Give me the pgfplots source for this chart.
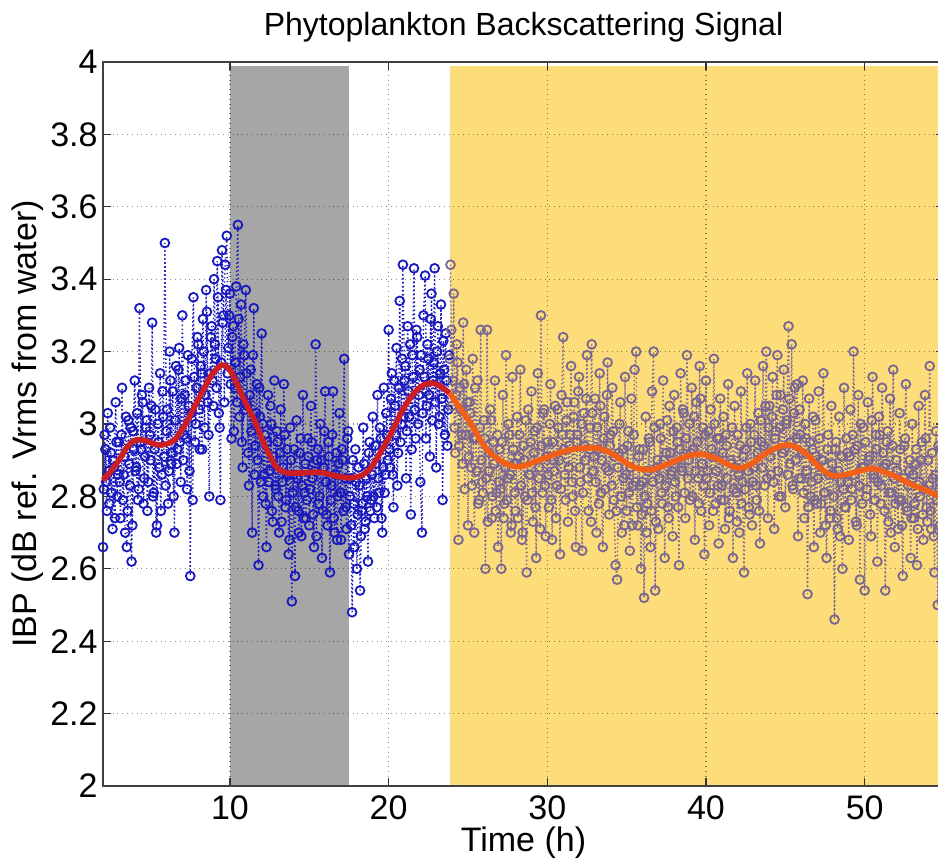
\documentclass[border=0pt]{standalone}
\usepackage{pgfplots}
\pgfplotsset{compat=1.18}
\usepackage{fontspec}
\setmainfont{Liberation Sans}
\definecolor{bluept}{RGB}{25,25,190}
\definecolor{purpt}{RGB}{122,102,146}
\definecolor{yel}{RGB}{253,221,122}
\definecolor{gry}{RGB}{166,166,166}
\definecolor{redl}{RGB}{205,30,35}
\definecolor{orgl}{RGB}{242,95,25}
\pgfplotsset{
  bluestyle/.style={bluept, line width=0.7pt, dash pattern=on 0.7pt off 1.3pt, mark=o, mark size=2.2pt, mark options={solid, line width=0.9pt}},
  purstyle/.style={purpt, line width=0.7pt, dash pattern=on 0.7pt off 1.3pt, mark=o, mark size=2.2pt, mark options={solid, line width=0.9pt}},
}
\begin{document}
\begin{tikzpicture}
\begin{axis}[
  set layers,
  at={(0pt,0pt)}, anchor=south west,
  scale only axis, width=420.5pt, height=362pt,
  xmin=2, xmax=55, ymin=2, ymax=4,
  xtick={10,20,30,40,50},
  ytick={2,2.2,2.4,2.6,2.8,3,3.2,3.4,3.6,3.8,4},
  /pgf/number format/assume math mode=true,
  tick label style={font=\fontsize{17}{17}\selectfont},
  yticklabel style={inner sep=0pt, xshift=-2.5pt},
  xticklabel style={inner sep=0pt, yshift=-4.5pt},
  tick align=inside, major tick length=4pt,
  tick style={black!80, line width=0.6pt},
  axis line style={black!75, line width=0.6pt},
  grid=major,
  major grid style={dotted, line width=0.6pt, black, opacity=0.45},
  every axis title shift=0pt,
  title={Phytoplankton Backscattering Signal},
  title style={font=\fontsize{16}{16}\selectfont, at={(axis description cs:0.5,1.0359)}, anchor=base, inner sep=0pt},
  xlabel={Time (h)},
  xlabel style={font=\fontsize{17}{17}\selectfont, at={(axis description cs:0.5,-0.0898)}, anchor=base, inner sep=0pt},
  ylabel={IBP (dB ref. Vrms from water)},
  ylabel style={font=\fontsize{17}{17}\selectfont, at={(axis description cs:-0.0785,0.5)}, anchor=base, inner sep=0pt},
]
\addplot[draw=none, fill=gry, on layer=axis background, forget plot] coordinates {(10,2) (10,3.99) (17.5,3.99) (17.5,2)};
\addplot[draw=none, fill=yel, on layer=axis background, forget plot] coordinates {(23.85,2) (23.85,3.99) (56,3.99) (56,2)};

% blue samples (before the yellow period)
\addplot[bluestyle] table[row sep=\\] {
x y\\
2.0 2.66\\ 2.1 2.97\\ 2.2 2.84\\ 2.3 3.03\\ 2.4 2.78\\ 2.5 2.92\\ 2.6 2.71\\ 2.7 2.88\\ 2.8 3.06\\ 2.9 2.80\\
3.0 2.95\\ 3.1 2.74\\ 3.2 3.10\\ 3.3 2.86\\ 3.4 2.70\\ 3.5 2.66\\ 3.6 3.01\\ 3.7 2.83\\ 3.8 2.62\\ 3.9 2.98\\
4.0 3.12\\ 4.1 2.88\\ 4.2 2.79\\ 4.3 3.32\\ 4.4 2.93\\ 4.5 3.06\\ 4.6 2.85\\ 4.7 2.99\\ 4.8 2.76\\ 4.9 3.10\\
5.0 2.90\\ 5.1 3.28\\ 5.2 2.81\\ 5.3 3.04\\ 5.4 2.72\\ 5.5 2.95\\ 5.6 3.14\\ 5.7 2.86\\ 5.8 3.02\\ 5.9 3.50\\
6.0 2.98\\ 6.1 2.78\\ 6.2 3.20\\ 6.3 2.89\\ 6.4 3.09\\ 6.5 2.70\\ 6.6 3.16\\ 6.7 2.93\\ 6.8 3.21\\ 6.9 2.84\\
7.0 3.30\\ 7.1 2.97\\ 7.2 3.12\\ 7.3 2.82\\ 7.4 3.05\\ 7.5 2.58\\ 7.6 3.18\\ 7.7 3.35\\ 7.8 2.95\\ 7.9 3.10\\
8.0 3.22\\ 8.1 2.93\\ 8.2 3.14\\ 8.3 3.29\\ 8.4 2.99\\ 8.5 3.37\\ 8.6 3.06\\ 8.7 2.80\\ 8.8 3.24\\ 8.9 3.12\\
9.0 3.40\\ 9.1 3.18\\ 9.2 3.45\\ 9.3 3.03\\ 9.4 2.79\\ 9.5 3.48\\ 9.6 3.30\\ 9.7 3.44\\ 9.8 3.52\\ 9.9 3.21\\
10.0 3.36\\ 10.1 2.96\\ 10.2 3.27\\ 10.3 3.10\\ 10.4 3.38\\ 10.5 3.55\\ 10.6 3.02\\ 10.7 3.33\\ 10.8 2.88\\ 10.9 3.19\\
11.0 3.37\\ 11.1 3.05\\ 11.2 2.83\\ 11.3 3.15\\ 11.4 2.70\\ 11.5 3.32\\ 11.6 2.94\\ 11.7 3.11\\ 11.8 2.61\\ 11.9 3.02\\
12.0 3.25\\ 12.1 2.80\\ 12.2 2.97\\ 12.3 2.66\\ 12.4 3.08\\ 12.5 2.87\\ 12.6 3.00\\ 12.7 2.73\\ 12.8 3.12\\ 12.9 2.82\\
13.0 2.95\\ 13.1 2.70\\ 13.2 3.04\\ 13.3 2.84\\ 13.4 3.11\\ 13.5 2.77\\ 13.6 2.93\\ 13.7 2.64\\ 13.8 2.99\\ 13.9 2.51\\
14.0 2.86\\ 14.1 2.58\\ 14.2 3.01\\ 14.3 2.76\\ 14.4 2.92\\ 14.5 2.69\\ 14.6 3.08\\ 14.7 2.81\\ 14.8 2.74\\ 14.9 2.96\\
15.0 2.72\\ 15.1 3.05\\ 15.2 2.85\\ 15.3 2.66\\ 15.4 3.22\\ 15.5 2.90\\ 15.6 2.78\\ 15.7 3.00\\ 15.8 2.63\\ 15.9 2.88\\
16.0 3.09\\ 16.1 2.75\\ 16.2 2.95\\ 16.3 2.59\\ 16.4 2.83\\ 16.5 3.09\\ 16.6 2.70\\ 16.7 2.92\\ 16.8 2.80\\ 16.9 3.03\\
17.0 2.68\\ 17.1 2.90\\ 17.2 3.18\\ 17.3 2.77\\ 17.4 2.96\\ 17.5 2.64\\ 17.6 2.85\\ 17.7 2.48\\ 17.8 2.78\\ 17.9 2.93\\
18.0 2.60\\ 18.1 2.88\\ 18.2 2.54\\ 18.3 2.76\\ 18.4 2.99\\ 18.5 2.71\\ 18.6 2.85\\ 18.7 2.62\\ 18.8 2.95\\ 18.9 2.79\\
19.0 3.02\\ 19.1 2.74\\ 19.2 2.89\\ 19.3 3.08\\ 19.4 2.81\\ 19.5 2.96\\ 19.6 2.70\\ 19.7 3.10\\ 19.8 2.86\\ 19.9 2.97\\
20.0 3.26\\ 20.1 2.88\\ 20.2 3.14\\ 20.3 2.77\\ 20.4 3.05\\ 20.5 3.21\\ 20.6 2.92\\ 20.7 3.34\\ 20.8 3.00\\ 20.9 3.44\\
21.0 3.12\\ 21.1 2.85\\ 21.2 3.27\\ 21.3 3.02\\ 21.4 2.75\\ 21.5 3.19\\ 21.6 3.43\\ 21.7 2.96\\ 21.8 3.24\\ 21.9 3.08\\
22.0 2.84\\ 22.1 2.70\\ 22.2 3.30\\ 22.3 3.41\\ 22.4 3.05\\ 22.5 3.18\\ 22.6 2.91\\ 22.7 3.36\\ 22.8 3.12\\ 22.9 3.43\\
23.0 2.88\\ 23.1 3.27\\ 23.2 3.02\\ 23.3 3.33\\ 23.4 2.79\\ 23.5 3.15\\ 23.6 3.25\\ 23.7 2.94\\ 23.8 3.19\\
};
\addplot[bluestyle] table[row sep=\\] {
x y\\
2.05 2.82\\ 2.15 2.93\\ 2.25 2.76\\ 2.35 2.87\\ 2.45 2.99\\ 2.55 2.81\\ 2.65 2.90\\ 2.75 2.74\\ 2.85 2.95\\ 2.95 2.86\\
3.05 2.84\\ 3.15 2.97\\ 3.25 2.79\\ 3.35 2.91\\ 3.45 3.02\\ 3.55 2.76\\ 3.65 2.89\\ 3.75 2.99\\ 3.85 2.72\\ 3.95 2.93\\
4.05 2.87\\ 4.15 3.03\\ 4.25 2.82\\ 4.35 2.95\\ 4.45 3.08\\ 4.55 2.78\\ 4.65 2.91\\ 4.75 3.01\\ 4.85 2.84\\ 4.95 2.97\\
5.05 3.05\\ 5.15 2.80\\ 5.25 2.93\\ 5.35 2.70\\ 5.45 3.00\\ 5.55 2.88\\ 5.65 2.76\\ 5.75 3.09\\ 5.85 2.91\\ 5.95 2.83\\
6.05 3.04\\ 6.15 2.87\\ 6.25 3.12\\ 6.35 2.92\\ 6.45 2.80\\ 6.55 3.01\\ 6.65 2.89\\ 6.75 3.15\\ 6.85 2.95\\ 6.95 3.07\\
7.05 2.90\\ 7.15 3.08\\ 7.25 2.96\\ 7.35 3.19\\ 7.45 2.87\\ 7.55 3.03\\ 7.65 2.79\\ 7.75 3.13\\ 7.85 3.00\\ 7.95 3.24\\
8.05 3.04\\ 8.15 3.16\\ 8.25 2.93\\ 8.35 3.20\\ 8.45 3.08\\ 8.55 3.31\\ 8.65 2.97\\ 8.75 3.14\\ 8.85 3.27\\ 8.95 3.05\\
9.05 3.22\\ 9.15 3.10\\ 9.25 3.35\\ 9.35 2.99\\ 9.45 3.17\\ 9.55 3.28\\ 9.65 3.06\\ 9.75 3.37\\ 9.85 3.14\\ 9.95 3.30\\
10.05 3.11\\ 10.15 3.24\\ 10.25 2.98\\ 10.35 3.17\\ 10.45 3.06\\ 10.55 3.29\\ 10.65 3.13\\ 10.75 2.95\\ 10.85 3.22\\ 10.95 3.04\\
11.05 3.14\\ 11.15 2.92\\ 11.25 3.08\\ 11.35 2.98\\ 11.45 3.19\\ 11.55 2.86\\ 11.65 3.03\\ 11.75 2.90\\ 11.85 3.10\\ 11.95 2.84\\
12.05 3.00\\ 12.15 2.86\\ 12.25 2.78\\ 12.35 2.95\\ 12.45 2.84\\ 12.55 3.05\\ 12.65 2.76\\ 12.75 2.91\\ 12.85 2.83\\ 12.95 2.98\\
13.05 2.80\\ 13.15 2.92\\ 13.25 2.73\\ 13.35 2.88\\ 13.45 2.97\\ 13.55 2.79\\ 13.65 2.86\\ 13.75 2.68\\ 13.85 2.90\\ 13.95 2.81\\
14.05 2.93\\ 14.15 2.77\\ 14.25 2.85\\ 14.35 2.70\\ 14.45 2.96\\ 14.55 2.83\\ 14.65 2.74\\ 14.75 2.89\\ 14.85 2.79\\ 14.95 2.91\\
15.05 2.82\\ 15.15 2.95\\ 15.25 2.75\\ 15.35 2.87\\ 15.45 2.69\\ 15.55 2.93\\ 15.65 2.80\\ 15.75 2.90\\ 15.85 2.76\\ 15.95 2.98\\
16.05 2.84\\ 16.15 2.72\\ 16.25 2.91\\ 16.35 2.79\\ 16.45 2.97\\ 16.55 2.74\\ 16.65 2.86\\ 16.75 2.68\\ 16.85 2.89\\ 16.95 2.81\\
17.05 2.93\\ 17.15 2.76\\ 17.25 2.85\\ 17.35 2.71\\ 17.45 2.98\\ 17.55 2.80\\ 17.65 2.72\\ 17.75 2.90\\ 17.85 2.66\\ 17.95 2.84\\
18.05 2.75\\ 18.15 2.83\\ 18.25 2.69\\ 18.35 2.78\\ 18.45 2.89\\ 18.55 2.73\\ 18.65 2.80\\ 18.75 2.92\\ 18.85 2.76\\ 18.95 2.86\\
19.05 2.80\\ 19.15 2.94\\ 19.25 2.77\\ 19.35 2.85\\ 19.45 2.99\\ 19.55 2.74\\ 19.65 2.88\\ 19.75 2.81\\ 19.85 3.03\\ 19.95 2.90\\
20.05 2.93\\ 20.15 3.07\\ 20.25 2.86\\ 20.35 3.12\\ 20.45 2.97\\ 20.55 2.83\\ 20.65 3.10\\ 20.75 2.95\\ 20.85 3.18\\ 20.95 3.02\\
21.05 3.16\\ 21.15 2.98\\ 21.25 3.09\\ 21.35 3.22\\ 21.45 2.93\\ 21.55 3.13\\ 21.65 3.04\\ 21.75 3.26\\ 21.85 3.00\\ 21.95 3.15\\
22.05 3.19\\ 22.15 3.03\\ 22.25 3.13\\ 22.35 2.96\\ 22.45 3.22\\ 22.55 3.08\\ 22.65 3.29\\ 22.75 3.01\\ 22.85 3.17\\ 22.95 3.06\\
23.05 3.20\\ 23.15 3.00\\ 23.25 3.14\\ 23.35 3.07\\ 23.45 3.23\\ 23.55 2.97\\ 23.65 3.12\\ 23.75 3.04\\
};

% samples during the yellow period
\addplot[purstyle] table[row sep=\\] {
x y\\
23.9 3.44\\ 24.0 3.05\\ 24.1 3.36\\ 24.2 2.92\\ 24.3 3.22\\ 24.4 2.68\\ 24.5 3.10\\ 24.6 2.97\\ 24.7 3.28\\ 24.8 2.82\\ 24.9 3.15\\
25.0 2.72\\ 25.1 3.06\\ 25.2 2.88\\ 25.3 3.18\\ 25.4 2.70\\ 25.5 2.96\\ 25.6 3.12\\ 25.7 2.79\\ 25.8 3.26\\ 25.9 2.84\\
26.0 3.01\\ 26.1 2.60\\ 26.2 3.26\\ 26.3 2.87\\ 26.4 3.04\\ 26.5 2.74\\ 26.6 2.95\\ 26.7 3.12\\ 26.8 2.81\\ 26.9 2.66\\
27.0 2.93\\ 27.1 2.60\\ 27.2 3.08\\ 27.3 2.78\\ 27.4 3.19\\ 27.5 2.85\\ 27.6 2.97\\ 27.7 2.70\\ 27.8 3.13\\ 27.9 2.89\\
28.0 2.76\\ 28.1 3.02\\ 28.2 2.91\\ 28.3 3.15\\ 28.4 2.68\\ 28.5 2.94\\ 28.6 2.80\\ 28.7 2.59\\ 28.8 3.04\\ 28.9 2.86\\
29.0 3.09\\ 29.1 2.73\\ 29.2 2.98\\ 29.3 2.63\\ 29.4 3.14\\ 29.5 2.88\\ 29.6 3.30\\ 29.7 2.81\\ 29.8 3.04\\ 29.9 2.69\\
30.0 2.95\\ 30.1 2.77\\ 30.2 3.11\\ 30.3 2.68\\ 30.4 2.90\\ 30.5 3.05\\ 30.6 2.83\\ 30.7 2.99\\ 30.8 2.64\\ 30.9 3.08\\
31.0 3.24\\ 31.1 2.86\\ 31.2 3.01\\ 31.3 2.73\\ 31.4 2.94\\ 31.5 3.16\\ 31.6 2.80\\ 31.7 3.06\\ 31.8 2.66\\ 31.9 2.97\\
32.0 3.13\\ 32.1 2.84\\ 32.2 2.65\\ 32.3 3.03\\ 32.4 2.90\\ 32.5 3.19\\ 32.6 2.76\\ 32.7 2.99\\ 32.8 3.22\\ 32.9 2.87\\
33.0 3.07\\ 33.1 2.70\\ 33.2 2.93\\ 33.3 3.14\\ 33.4 2.81\\ 33.5 2.66\\ 33.6 3.02\\ 33.7 2.88\\ 33.8 3.17\\ 33.9 2.75\\
34.0 2.97\\ 34.1 3.10\\ 34.2 2.79\\ 34.3 2.61\\ 34.4 2.57\\ 34.5 2.92\\ 34.6 3.06\\ 34.7 2.70\\ 34.8 2.85\\ 34.9 3.13\\
35.0 2.76\\ 35.1 2.98\\ 35.2 2.65\\ 35.3 3.07\\ 35.4 2.83\\ 35.5 3.15\\ 35.6 3.20\\ 35.7 2.72\\ 35.8 2.93\\ 35.9 2.60\\
36.0 2.84\\ 36.1 2.52\\ 36.2 3.02\\ 36.3 2.78\\ 36.4 2.96\\ 36.5 2.66\\ 36.6 3.09\\ 36.7 3.20\\ 36.8 2.54\\ 36.9 2.88\\
37.0 2.71\\ 37.1 3.00\\ 37.2 2.81\\ 37.3 3.12\\ 37.4 2.63\\ 37.5 2.92\\ 37.6 2.77\\ 37.7 3.05\\ 37.8 2.86\\ 37.9 2.69\\
38.0 3.08\\ 38.1 2.80\\ 38.2 2.95\\ 38.3 2.61\\ 38.4 3.14\\ 38.5 2.87\\ 38.6 3.03\\ 38.7 2.74\\ 38.8 3.19\\ 38.9 2.90\\
39.0 2.79\\ 39.1 3.10\\ 39.2 2.93\\ 39.3 2.68\\ 39.4 3.06\\ 39.5 2.85\\ 39.6 3.16\\ 39.7 2.76\\ 39.8 2.99\\ 39.9 2.64\\
40.0 3.12\\ 40.1 2.87\\ 40.2 2.72\\ 40.3 3.04\\ 40.4 2.91\\ 40.5 3.18\\ 40.6 2.78\\ 40.7 2.96\\ 40.8 2.67\\ 40.9 3.07\\
41.0 2.83\\ 41.1 3.02\\ 41.2 2.71\\ 41.3 2.94\\ 41.4 3.11\\ 41.5 2.76\\ 41.6 2.89\\ 41.7 2.63\\ 41.8 3.05\\ 41.9 2.81\\
42.0 2.97\\ 42.1 2.70\\ 42.2 3.09\\ 42.3 2.84\\ 42.4 2.59\\ 42.5 2.93\\ 42.6 3.14\\ 42.7 2.77\\ 42.8 3.00\\ 42.9 2.72\\
43.0 2.88\\ 43.1 3.12\\ 43.2 2.79\\ 43.3 3.03\\ 43.4 2.67\\ 43.5 2.95\\ 43.6 3.16\\ 43.7 2.83\\ 43.8 3.20\\ 43.9 2.74\\
44.0 3.05\\ 44.1 2.86\\ 44.2 3.13\\ 44.3 2.71\\ 44.4 2.98\\ 44.5 3.19\\ 44.6 2.80\\ 44.7 3.08\\ 44.8 2.92\\ 44.9 3.15\\
45.0 2.77\\ 45.1 3.01\\ 45.2 3.27\\ 45.3 2.89\\ 45.4 3.22\\ 45.5 2.82\\ 45.6 3.10\\ 45.7 2.96\\ 45.8 2.69\\ 45.9 3.04\\
46.0 2.85\\ 46.1 3.12\\ 46.2 2.74\\ 46.3 2.96\\ 46.4 2.53\\ 46.5 3.07\\ 46.6 2.80\\ 46.7 2.93\\ 46.8 2.66\\ 46.9 3.01\\
47.0 2.78\\ 47.1 3.09\\ 47.2 2.70\\ 47.3 2.90\\ 47.4 3.14\\ 47.5 2.81\\ 47.6 2.63\\ 47.7 2.97\\ 47.8 2.74\\ 47.9 3.05\\
48.0 2.86\\ 48.1 2.46\\ 48.2 2.95\\ 48.3 2.71\\ 48.4 3.02\\ 48.5 2.84\\ 48.6 2.60\\ 48.7 3.10\\ 48.8 2.77\\ 48.9 2.92\\
49.0 2.68\\ 49.1 3.04\\ 49.2 2.82\\ 49.3 3.20\\ 49.4 2.93\\ 49.5 2.72\\ 49.6 3.08\\ 49.7 2.57\\ 49.8 2.88\\ 49.9 2.99\\
50.0 2.54\\ 50.1 2.80\\ 50.2 3.06\\ 50.3 2.91\\ 50.4 2.69\\ 50.5 3.13\\ 50.6 2.85\\ 50.7 2.97\\ 50.8 2.62\\ 50.9 3.02\\
51.0 2.78\\ 51.1 3.10\\ 51.2 2.88\\ 51.3 2.54\\ 51.4 2.95\\ 51.5 2.73\\ 51.6 3.07\\ 51.7 2.81\\ 51.8 3.15\\ 51.9 2.66\\
52.0 2.90\\ 52.1 2.71\\ 52.2 3.03\\ 52.3 2.79\\ 52.4 2.58\\ 52.5 2.94\\ 52.6 3.11\\ 52.7 2.76\\ 52.8 2.87\\ 52.9 2.63\\
53.0 3.00\\ 53.1 2.74\\ 53.2 2.89\\ 53.3 2.61\\ 53.4 3.05\\ 53.5 2.80\\ 53.6 2.95\\ 53.7 2.68\\ 53.8 3.08\\ 53.9 2.77\\
54.0 2.90\\ 54.1 3.16\\ 54.2 2.71\\ 54.3 2.85\\ 54.4 2.59\\ 54.5 2.98\\ 54.6 2.50\\ 54.7 2.82\\ 54.8 2.93\\ 54.9 2.70\\
};
\addplot[purstyle] table[row sep=\\] {
x y\\
23.85 3.18\\ 23.95 3.26\\ 24.05 3.12\\ 24.15 2.99\\ 24.25 3.08\\ 24.35 3.17\\ 24.45 2.94\\ 24.55 3.04\\ 24.65 2.89\\ 24.75 3.11\\ 24.85 2.97\\ 24.95 3.06\\
25.05 2.91\\ 25.15 3.03\\ 25.25 2.83\\ 25.35 2.96\\ 25.45 3.10\\ 25.55 2.87\\ 25.65 2.78\\ 25.75 2.99\\ 25.85 2.90\\ 25.95 2.81\\
26.05 2.96\\ 26.15 2.85\\ 26.25 2.73\\ 26.35 2.92\\ 26.45 3.01\\ 26.55 2.80\\ 26.65 2.89\\ 26.75 2.76\\ 26.85 2.97\\ 26.95 2.84\\
27.05 2.82\\ 27.15 2.95\\ 27.25 2.74\\ 27.35 2.88\\ 27.45 2.79\\ 27.55 3.00\\ 27.65 2.86\\ 27.75 2.72\\ 27.85 2.93\\ 27.95 2.81\\
28.05 2.89\\ 28.15 2.74\\ 28.25 2.97\\ 28.35 2.83\\ 28.45 2.70\\ 28.55 2.90\\ 28.65 3.01\\ 28.75 2.79\\ 28.85 2.86\\ 28.95 2.95\\
29.05 2.81\\ 29.15 2.92\\ 29.25 2.77\\ 29.35 2.99\\ 29.45 2.85\\ 29.55 2.71\\ 29.65 2.94\\ 29.75 3.03\\ 29.85 2.83\\ 29.95 2.91\\
30.05 2.86\\ 30.15 3.00\\ 30.25 2.79\\ 30.35 2.95\\ 30.45 2.87\\ 30.55 2.74\\ 30.65 3.04\\ 30.75 2.90\\ 30.85 2.82\\ 30.95 2.97\\
31.05 2.93\\ 31.15 2.79\\ 31.25 3.06\\ 31.35 2.88\\ 31.45 2.97\\ 31.55 2.84\\ 31.65 3.02\\ 31.75 2.76\\ 31.85 2.95\\ 31.95 3.09\\
32.05 2.88\\ 32.15 3.00\\ 32.25 2.81\\ 32.35 2.94\\ 32.45 3.07\\ 32.55 2.85\\ 32.65 2.93\\ 32.75 2.73\\ 32.85 3.03\\ 32.95 2.91\\
33.05 2.84\\ 33.15 2.99\\ 33.25 2.78\\ 33.35 3.05\\ 33.45 2.90\\ 33.55 2.96\\ 33.65 2.82\\ 33.75 3.08\\ 33.85 2.87\\ 33.95 2.94\\
34.05 2.83\\ 34.15 2.98\\ 34.25 2.91\\ 34.35 2.76\\ 34.45 2.88\\ 34.55 3.00\\ 34.65 2.80\\ 34.75 2.93\\ 34.85 2.72\\ 34.95 2.86\\
35.05 2.94\\ 35.15 2.81\\ 35.25 2.88\\ 35.35 2.72\\ 35.45 2.97\\ 35.55 2.84\\ 35.65 2.77\\ 35.75 2.91\\ 35.85 2.83\\ 35.95 2.75\\
36.05 2.93\\ 36.15 2.80\\ 36.25 2.70\\ 36.35 2.87\\ 36.45 2.95\\ 36.55 2.76\\ 36.65 2.84\\ 36.75 2.99\\ 36.85 2.73\\ 36.95 2.90\\
37.05 2.85\\ 37.15 2.96\\ 37.25 2.78\\ 37.35 2.90\\ 37.45 2.83\\ 37.55 3.01\\ 37.65 2.74\\ 37.75 2.92\\ 37.85 2.87\\ 37.95 2.98\\
38.05 2.84\\ 38.15 2.99\\ 38.25 2.77\\ 38.35 2.93\\ 38.45 2.88\\ 38.55 3.04\\ 38.65 2.81\\ 38.75 2.96\\ 38.85 2.85\\ 38.95 3.00\\
39.05 2.92\\ 39.15 2.80\\ 39.25 3.02\\ 39.35 2.87\\ 39.45 2.95\\ 39.55 2.78\\ 39.65 3.07\\ 39.75 2.89\\ 39.85 2.83\\ 39.95 2.97\\
40.05 2.85\\ 40.15 2.98\\ 40.25 2.81\\ 40.35 2.93\\ 40.45 2.76\\ 40.55 3.00\\ 40.65 2.87\\ 40.75 2.83\\ 40.85 2.96\\ 40.95 2.79\\
41.05 2.92\\ 41.15 2.79\\ 41.25 2.97\\ 41.35 2.85\\ 41.45 2.74\\ 41.55 2.90\\ 41.65 2.99\\ 41.75 2.82\\ 41.85 2.88\\ 41.95 2.73\\
42.05 2.86\\ 42.15 2.94\\ 42.25 2.78\\ 42.35 2.91\\ 42.45 2.82\\ 42.55 2.99\\ 42.65 2.87\\ 42.75 2.75\\ 42.85 2.95\\ 42.95 2.84\\
43.05 2.97\\ 43.15 2.83\\ 43.25 2.92\\ 43.35 2.76\\ 43.45 3.01\\ 43.55 2.88\\ 43.65 2.94\\ 43.75 3.05\\ 43.85 2.85\\ 43.95 2.99\\
44.05 2.91\\ 44.15 3.02\\ 44.25 2.84\\ 44.35 2.96\\ 44.45 3.08\\ 44.55 2.87\\ 44.65 2.99\\ 44.75 2.80\\ 44.85 3.04\\ 44.95 2.93\\
45.05 3.00\\ 45.15 2.86\\ 45.25 3.07\\ 45.35 2.95\\ 45.45 2.83\\ 45.55 3.03\\ 45.65 2.90\\ 45.75 3.11\\ 45.85 2.85\\ 45.95 2.97\\
46.05 2.92\\ 46.15 2.81\\ 46.25 3.00\\ 46.35 2.87\\ 46.45 2.77\\ 46.55 2.95\\ 46.65 2.84\\ 46.75 3.02\\ 46.85 2.79\\ 46.95 2.91\\
47.05 2.85\\ 47.15 2.96\\ 47.25 2.78\\ 47.35 2.90\\ 47.45 2.81\\ 47.55 2.72\\ 47.65 2.93\\ 47.75 2.86\\ 47.85 2.76\\ 47.95 2.89\\
48.05 2.80\\ 48.15 2.93\\ 48.25 2.74\\ 48.35 2.87\\ 48.45 2.69\\ 48.55 2.91\\ 48.65 2.82\\ 48.75 2.77\\ 48.85 2.96\\ 48.95 2.84\\
49.05 2.91\\ 49.15 2.79\\ 49.25 2.97\\ 49.35 2.86\\ 49.45 2.73\\ 49.55 2.94\\ 49.65 2.83\\ 49.75 3.00\\ 49.85 2.78\\ 49.95 2.88\\
50.05 2.95\\ 50.15 2.82\\ 50.25 2.90\\ 50.35 2.75\\ 50.45 3.01\\ 50.55 2.86\\ 50.65 2.79\\ 50.75 2.93\\ 50.85 2.84\\ 50.95 2.97\\
51.05 2.83\\ 51.15 2.92\\ 51.25 2.76\\ 51.35 2.89\\ 51.45 2.98\\ 51.55 2.81\\ 51.65 2.70\\ 51.75 2.94\\ 51.85 2.85\\ 51.95 2.78\\
52.05 2.87\\ 52.15 2.79\\ 52.25 2.93\\ 52.35 2.72\\ 52.45 2.85\\ 52.55 2.96\\ 52.65 2.77\\ 52.75 2.83\\ 52.85 2.90\\ 52.95 2.74\\
53.05 2.86\\ 53.15 2.78\\ 53.25 2.93\\ 53.35 2.71\\ 53.45 2.84\\ 53.55 2.90\\ 53.65 2.75\\ 53.75 2.82\\ 53.85 2.96\\ 53.95 2.73\\
54.05 2.83\\ 54.15 2.76\\ 54.25 2.92\\ 54.35 2.69\\ 54.45 2.86\\ 54.55 2.79\\ 54.65 2.94\\ 54.75 2.72\\ 54.85 2.85\\ 54.95 2.81\\
};

% smoothed trend (drawn above the samples)
\addplot[redl, line width=2.8pt, smooth, line join=round, on layer=axis foreground] coordinates {
(2.0,2.845) (2.5,2.87) (3.0,2.90) (3.5,2.935) (4.0,2.955) (4.6,2.955) (5.2,2.945) (5.7,2.942) (6.2,2.948) (6.6,2.96)
(7.2,3.00) (7.8,3.05) (8.6,3.117) (9.0,3.145) (9.5,3.163) (9.9,3.155) (10.3,3.125) (10.7,3.085) (11.2,3.04) (11.6,3.005)
(12.1,2.95) (12.6,2.905) (13.0,2.878) (13.6,2.865) (14.6,2.865) (15.6,2.867) (16.2,2.862) (16.7,2.856) (17.3,2.852) (17.8,2.852)
(18.3,2.858) (18.8,2.875) (19.2,2.90) (19.6,2.93) (20.05,2.965) (20.5,3.005) (20.9,3.04) (21.3,3.068) (21.7,3.09) (22.1,3.105)
(22.6,3.113) (23.0,3.11) (23.4,3.10) (23.85,3.085)
};
\addplot[orgl, line width=2.8pt, smooth, line join=round, on layer=axis foreground] coordinates {
(23.85,3.085) (24.4,3.05) (24.9,3.02) (25.4,2.985) (25.9,2.947) (26.4,2.92) (27.0,2.90) (27.5,2.888) (28.0,2.882) (28.5,2.884)
(29.0,2.892) (29.5,2.90) (30.1,2.91) (30.6,2.918) (31.2,2.926) (31.7,2.931) (32.2,2.933) (32.8,2.934) (33.3,2.932) (33.9,2.922)
(34.5,2.906) (35.0,2.892) (35.4,2.882) (35.9,2.876) (36.4,2.873) (36.9,2.878) (37.5,2.888) (38.0,2.897) (38.5,2.906) (39.0,2.913)
(39.6,2.917) (40.1,2.913) (40.6,2.906) (41.1,2.895) (41.6,2.884) (42.1,2.878) (42.6,2.884) (43.1,2.897) (43.6,2.914) (44.0,2.925)
(44.4,2.934) (44.8,2.94) (45.2,2.942) (45.6,2.938) (46.0,2.928) (46.5,2.91) (47.0,2.887) (47.5,2.868) (48.0,2.857) (48.5,2.858)
(49.0,2.862) (49.5,2.868) (50.0,2.874) (50.4,2.877) (50.9,2.873) (51.3,2.866) (51.7,2.86) (52.2,2.85) (52.7,2.838) (53.2,2.828)
(53.7,2.82) (54.2,2.81) (54.6,2.803) (55.0,2.797)
};
\end{axis}
\pgfresetboundingbox
\path[use as bounding box] (-51.5pt,-38pt) rectangle (417.5pt,393pt);
\end{tikzpicture}
\end{document}
